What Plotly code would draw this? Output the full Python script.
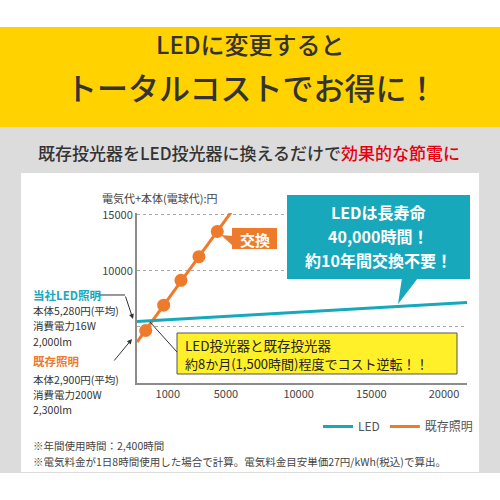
import plotly.graph_objects as go

# ---------------- data ----------------
x_ticks = [1000, 5000, 10000, 15000, 20000]
x_ticktext = ["1000", "5000", "10000", "15000", "20000"]
y_ticks = [5000, 10000, 15000]
y_ticktext = ["", "10000", "15000"]

led_hours = [-1120, 21580]
led_cost = [5480, 7180]

old_hours = [-1120, 5790]
old_cost = [3650, 16000]

dot_hours = [-520, 715, 1905, 3140, 4400]
dot_cost = [4680, 6940, 9150, 11260, 13500]

FONT = "Noto Sans CJK JP, Noto Sans, sans-serif"
ORANGE = "#EE7B2C"
TEAL = "#17A8BC"

# plot area in pixels
L, R, T, B = 137, 467, 213, 383


def px(x):
    return (x - L) / (R - L)


def py(y):
    return (B - y) / (B - T)


fig = go.Figure()
fig.add_trace(go.Scatter(
    x=old_hours, y=old_cost, mode="lines", name="既存照明",
    line=dict(color=ORANGE, width=3),
))
fig.add_trace(go.Scatter(
    x=dot_hours, y=dot_cost, mode="markers", name="既存照明", showlegend=False,
    marker=dict(color=ORANGE, size=13, opacity=1, line=dict(width=0)),
))
fig.add_trace(go.Scatter(
    x=led_hours, y=led_cost, mode="lines", name="LED",
    line=dict(color=TEAL, width=3),
))

shapes = []


def rect(x0, y0, x1, y1, color, layer="below", line=None):
    shapes.append(dict(type="rect", xref="paper", yref="paper",
                       x0=px(x0), x1=px(x1), y0=py(y1), y1=py(y0),
                       fillcolor=color, layer=layer,
                       line=line or dict(width=0)))


def path(points, color, layer="above", fill=True, width=1):
    d = "M " + " L ".join(f"{px(a):.5f},{py(b):.5f}" for a, b in points)
    if fill:
        d += " Z"
    shapes.append(dict(type="path", xref="paper", yref="paper", path=d,
                       fillcolor=color if fill else None, layer=layer,
                       line=dict(color=color, width=0 if fill else width)))


# backgrounds
rect(0, 27, 500, 127, "#FFD200")
rect(0, 127, 500, 473, "#DCDCDC")
rect(21, 173, 479, 472, "#FFFFFF")

# teal callout
rect(287, 195, 470, 279, TEAL, layer="above")
path([(402, 278), (418, 278), (398, 304)], TEAL)
# orange 交換 box
rect(232, 228, 277, 249, ORANGE, layer="above")
path([(221, 235), (233, 236), (233, 246)], ORANGE)
# yellow callout
rect(177, 333, 457, 374, "#FFF02A", layer="above", line=dict(color="#555555", width=1))
# pointer line
path([(150, 322), (177, 352)], "#333333", fill=False, width=1)
# left annotation connector
path([(98, 295), (125, 295)], "#333333", fill=False, width=1)

ann = []


def text(x, y, s, size=11, color="#333333", anchor="left", bold=False, weight=None):
    if bold:
        s = f"<b>{s}</b>"
    f = dict(family=FONT, size=size, color=color)
    if weight:
        f["weight"] = weight
    ann.append(dict(xref="paper", yref="paper", x=px(x), y=py(y), text=s,
                    showarrow=False, xanchor=anchor, yanchor="middle", font=f))


text(250, 43, "LEDに変更すると", 24, "#333333", "center", weight=500)
text(251, 86, "トータルコストでお得に！", 31, "#333333", "center", weight=500)
text(249, 152, "既存投光器をLED投光器に換えるだけで"
     "<span style='color:#E60012'>効果的な節電に</span>", 17, "#333333", "center", weight=500)
text(100, 198, "電気代+本体(電球代):円", 11, "#444444")

text(378, 212, "LEDは長寿命", 16, "#FFFFFF", "center", True)
text(378, 236, "40,000時間！", 16, "#FFFFFF", "center", True)
text(378, 260, "約10年間交換不要！", 16, "#FFFFFF", "center", True)
text(254.5, 239, "交換", 15, "#FFFFFF", "center", True)

text(183, 345, "LED投光器と既存投光器", 13.5, "#222222")
text(183, 363, "約8か月(1,500時間)程度でコスト逆転！！", 13, "#222222")

text(31, 295, "当社LED照明", 11.5, TEAL, bold=True)
text(31, 310, "本体5,280円(平均)", 10.5)
text(31, 325, "消費電力16W", 10.5)
text(31, 341, "2,000lm", 10.5)
text(31, 361, "既存照明", 11.5, ORANGE, bold=True)
text(31, 379, "本体2,900円(平均)", 10.5)
text(31, 394, "消費電力200W", 10.5)
text(31, 409, "2,300lm", 10.5)

text(31, 445, "※年間使用時間：2,400時間", 10.5, "#444444")
text(31, 461, "※電気料金が1日8時間使用した場合で計算。電気料金目安単価27円/kWh(税込)で算出。",
     10.5, "#444444")

# arrows
for (x0, y0, x1, y1) in [(125, 295, 133, 319), (113, 362, 132, 339)]:
    ann.append(dict(xref="paper", yref="paper", x=px(x1), y=py(y1),
                    ax=x0 - x1, ay=y0 - y1, axref="pixel", ayref="pixel",
                    text="", showarrow=True, arrowhead=2, arrowsize=1,
                    arrowwidth=1, arrowcolor="#333333"))

fig.update_layout(
    width=500, height=500, autosize=False,
    margin=dict(l=L, r=500 - R, t=T, b=500 - B, pad=0),
    paper_bgcolor="#FFFFFF", plot_bgcolor="rgba(0,0,0,0)",
    font=dict(family=FONT, size=11, color="#444444"),
    shapes=shapes, annotations=ann,
    showlegend=True,
    legend=dict(orientation="h", x=px(318), y=py(412), xanchor="left", yanchor="top",
                traceorder="reversed", bgcolor="rgba(0,0,0,0)",
                font=dict(family=FONT, size=12, color="#555555"),
                itemwidth=30),
)
fig.update_xaxes(range=[-1120, 21580], tickvals=x_ticks, ticktext=x_ticktext,
                 showgrid=False, zeroline=False,
                 showline=True, linecolor="#8C8C8C", linewidth=2, ticks="",
                 tickfont=dict(size=11, color="#444444"), fixedrange=True)
fig.update_yaxes(range=[0, 15150], tickvals=y_ticks, ticktext=y_ticktext, showgrid=True,
                 gridcolor="#AAAAAA", griddash="dot", gridwidth=1, zeroline=False,
                 showline=True, linecolor="#8C8C8C", linewidth=2, ticks="",
                 tickfont=dict(size=11, color="#444444"), fixedrange=True)

fig.write_html("out.html", config={"displayModeBar": False})
